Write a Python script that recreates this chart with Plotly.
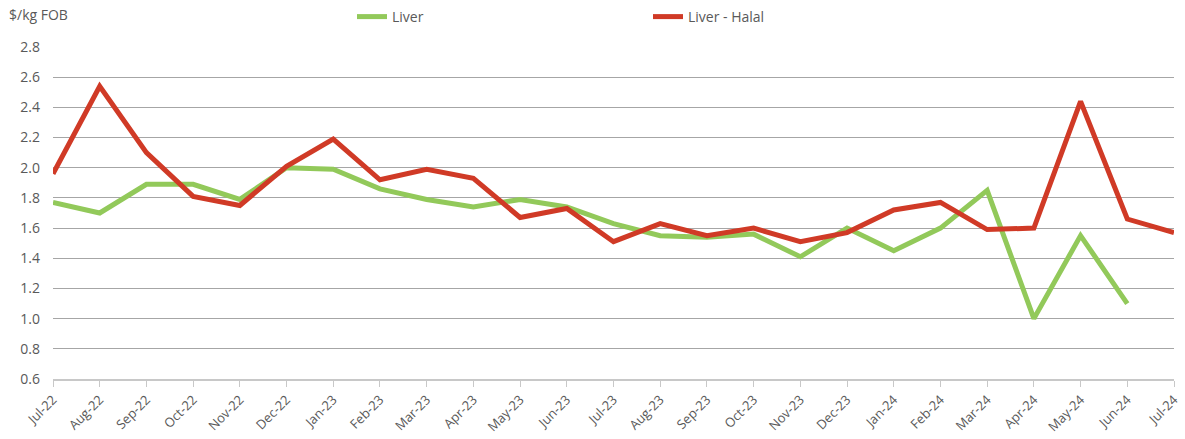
import plotly.graph_objects as go

# ---------------------------------------------------------
# Data
# ---------------------------------------------------------

months = [
    "Jul-22", "Aug-22", "Sep-22", "Oct-22", "Nov-22", "Dec-22",
    "Jan-23", "Feb-23", "Mar-23", "Apr-23", "May-23", "Jun-23",
    "Jul-23", "Aug-23", "Sep-23", "Oct-23", "Nov-23", "Dec-23",
    "Jan-24", "Feb-24", "Mar-24", "Apr-24", "May-24", "Jun-24",
    "Jul-24",
]

liver = [
    1.77, 1.70, 1.89, 1.89, 1.79, 2.00,
    1.99, 1.86, 1.79, 1.74, 1.79, 1.74,
    1.63, 1.55, 1.54, 1.56, 1.41, 1.60,
    1.45, 1.60, 1.85, 1.00, 1.55, 1.10,
    None,
]

liver_halal = [
    1.96, 2.54, 2.10, 1.81, 1.75, 2.01,
    2.19, 1.92, 1.99, 1.93, 1.67, 1.73,
    1.51, 1.63, 1.55, 1.60, 1.51, 1.57,
    1.72, 1.77, 1.59, 1.60, 2.44, 1.66,
    1.57,
]

y_ticks = [0.6, 0.8, 1.0, 1.2, 1.4, 1.6, 1.8, 2.0, 2.2, 2.4, 2.6, 2.8]

GREEN = "#92C95A"
RED = "#D03A26"
TEXT = "#595959"
FONT = "Open Sans"

W, H = 1185, 439
M_L, M_R, M_T, M_B = 53, 11, 47, 60

# ---------------------------------------------------------
# Figure
# ---------------------------------------------------------

fig = go.Figure()

fig.add_scatter(
    x=months,
    y=liver,
    name="Liver",
    mode="lines",
    line=dict(color=GREEN, width=5),
)

fig.add_scatter(
    x=months,
    y=liver_halal,
    name="Liver - Halal",
    mode="lines",
    line=dict(color=RED, width=5),
)

fig.update_layout(
    width=W,
    height=H,
    plot_bgcolor="white",
    paper_bgcolor="white",
    font=dict(family=FONT, color=TEXT, size=13),
    margin=dict(t=M_T, l=M_L, r=M_R, b=M_B, autoexpand=False),
    legend=dict(
        orientation="h",
        xref="container",
        yref="container",
        x=352 / W,
        xanchor="left",
        y=1 - 17 / H,
        yanchor="middle",
        entrywidth=251,
        font=dict(size=14, color=TEXT),
        itemwidth=30,
    ),
    annotations=[
        dict(
            text="$/kg FOB",
            x=(7 - M_L) / (W - M_L - M_R),
            y=1 + (M_T - 14) / (H - M_T - M_B),
            xref="paper",
            yref="paper",
            xanchor="left",
            yanchor="middle",
            showarrow=False,
            font=dict(size=14, color=TEXT),
        )
    ],
    xaxis=dict(
        type="category",
        categoryorder="array",
        categoryarray=months,
        range=[0, len(months) - 1],
        tickangle=-45,
        showgrid=False,
        showline=True,
        linecolor="#c8c8c8",
        linewidth=2,
        ticks="outside",
        tickcolor="#c8c8c8",
        ticklen=6,
        tickfont=dict(size=13, color=TEXT),
        automargin=False,
    ),
    yaxis=dict(
        range=[0.6, 2.8],
        tickvals=y_ticks,
        tickformat=".1f",
        showgrid=True,
        gridcolor="#a6a6a6",
        gridwidth=1,
        zeroline=False,
        tickfont=dict(size=14, color=TEXT),
        ticks="",
        ticklabelstandoff=12,
        automargin=False,
    ),
)

# drop the browser's default body margin so the figure sits at (0, 0)
fig.write_html(
    "out.html",
    config={"displayModeBar": False},
    post_script="document.body.style.margin='0';",
)
